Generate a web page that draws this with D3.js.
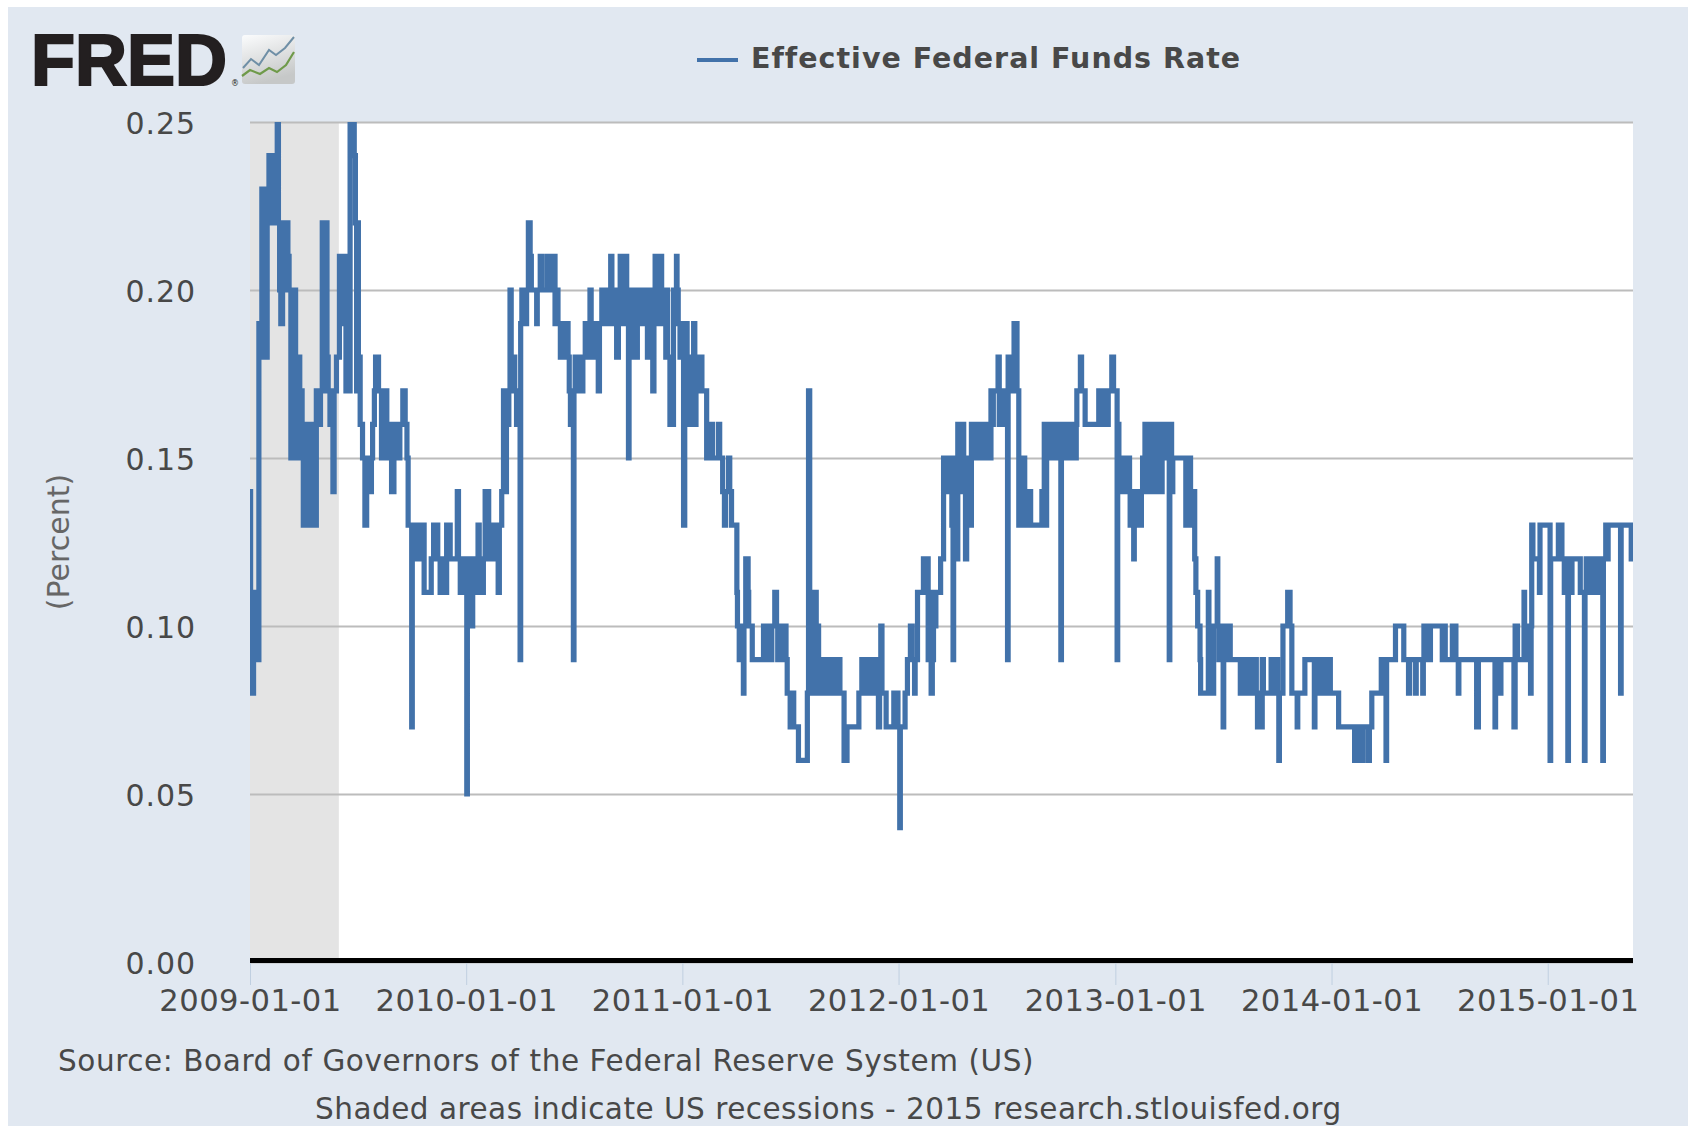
<!DOCTYPE html>
<html><head><meta charset="utf-8">
<script src="https://cdnjs.cloudflare.com/ajax/libs/d3/7.8.5/d3.min.js"></script>
<style>html,body{margin:0;padding:0;background:#fff}svg{display:block}</style>
</head><body><svg id="c" width="1688" height="1126"></svg>
<script>
// Observations: [days since 2009-01-01, rate in percent]; each value holds until the next entry.
const obs2009=[[0,.14],[1,.11],[4,.08],[6,.11],[9,.09],[12,.11],[14,.09],[15,.19],[18,.18],[20,.23],[23,.18],[26,.23],[28,.18],[29,.23],[32,.24],[36,.22],[38,.24],[41,.23],[43,.22],[46,.25],[48,.22],[50,.20],[52,.19],[55,.20],[56,.22],[60,.20],[62,.22],[64,.21],[66,.20],[69,.15],[72,.20],[73,.15],[75,.20],[77,.18],[80,.15],[82,.18],[84,.17],[88,.15],[90,.13],[93,.16],[95,.13],[97,.16],[99,.15],[101,.13],[104,.16],[106,.13],[108,.16],[110,.13],[112,.17],[116,.16],[119,.17],[122,.22],[125,.17],[127,.22],[130,.18],[132,.17],[135,.16],[137,.17],[140,.14],[142,.17],[146,.18],[151,.21],[154,.19],[158,.21],[162,.17],[165,.21],[166,.17],[169,.25],[174,.25],[176,.24],[178,.22],[180,.17],[181,.22],[183,.18],[186,.16],[190,.15],[194,.13],[197,.15],[203,.14],[205,.15],[207,.16],[210,.17],[212,.18],[217,.17],[222,.15],[225,.17],[227,.15],[229,.17],[231,.15],[235,.16],[239,.14],[243,.16],[246,.15],[248,.16],[250,.15],[253,.16],[258,.17],[262,.16],[265,.15],[267,.13],[273,.07],[274,.13],[281,.12],[283,.13],[287,.12],[290,.13],[294,.11],[306,.12],[310,.13],[317,.12],[321,.11],[328,.12],[330,.11],[332,.13],[334,.12],[336,.13],[338,.12],[350,.14],[352,.12],[355,.11],[358,.12],[360,.11],[363,.12]];
const obs2010=[[366,.05],[367,.11],[370,.12],[372,.11],[374,.10],[376,.11],[378,.12],[380,.11],[383,.12],[385,.13],[387,.11],[390,.12],[391,.11],[394,.12],[397,.14],[403,.13],[405,.12],[407,.13],[409,.12],[411,.13],[414,.12],[417,.13],[419,.11],[421,.13],[425,.14],[428,.17],[431,.14],[433,.17],[435,.16],[437,.17],[439,.20],[441,.17],[445,.18],[447,.17],[450,.16],[456,.09],[457,.19],[459,.20],[461,.19],[463,.20],[465,.19],[467,.20],[470,.22],[473,.21],[475,.20],[484,.19],[485,.20],[490,.21],[492,.20],[501,.21],[505,.20],[507,.21],[515,.19],[517,.20],[520,.19],[524,.18],[526,.19],[529,.18],[531,.19],[537,.18],[539,.17],[541,.16],[543,.17],[546,.09],[547,.17],[549,.18],[551,.17],[553,.18],[556,.17],[558,.18],[560,.17],[562,.18],[566,.19],[568,.18],[570,.19],[572,.18],[574,.20],[576,.19],[578,.18],[580,.19],[582,.18],[585,.19],[588,.17],[590,.19],[594,.20],[596,.19],[598,.20],[600,.19],[602,.20],[604,.19],[606,.20],[609,.21],[611,.19],[613,.20],[619,.18],[622,.20],[624,.19],[625,.21],[630,.21],[632,.19],[634,.21],[636,.19],[639,.15],[640,.20],[642,.18],[645,.20],[647,.18],[649,.20],[651,.18],[654,.20],[657,.19],[664,.20],[669,.19],[671,.18],[675,.20],[676,.19],[680,.17],[682,.19],[684,.21],[686,.19],[688,.21],[690,.19],[692,.21],[693,.19],[694,.21],[695,.20],[702,.18],[704,.20],[705,.18],[709,.16],[711,.18],[713,.16],[715,.20],[717,.19],[720,.21],[721,.20],[723,.19],[726,.18],[727,.19]];
const obs2011=[[732,.13],[734,.18],[736,.19],[738,.17],[740,.16],[742,.18],[744,.16],[749,.19],[751,.16],[753,.17],[755,.17],[757,.18],[759,.17],[761,.18],[763,.17],[771,.15],[775,.16],[777,.15],[779,.16],[781,.15],[791,.16],[793,.15],[798,.14],[801,.13],[803,.14],[808,.15],[810,.14],[813,.13],[822,.11],[823,.10],[826,.09],[828,.10],[830,.09],[833,.08],[834,.10],[837,.12],[841,.11],[842,.10],[846,.10],[848,.09],[867,.10],[869,.09],[871,.10],[873,.09],[876,.10],[878,.09],[881,.10],[886,.11],[889,.10],[891,.09],[893,.10],[895,.09],[897,.10],[899,.09],[903,.10],[905,.09],[907,.08],[912,.07],[915,.08],[918,.07],[926,.06],[941,.08],[943,.17],[945,.08],[947,.11],[948,.08],[951,.11],[952,.09],[954,.11],[956,.08],[958,.10],[960,.09],[966,.08],[968,.09],[970,.08],[972,.09],[974,.08],[977,.09],[979,.08],[981,.09],[983,.08],[986,.09],[988,.08],[990,.09],[992,.08],[994,.09],[996,.08],[1003,.06],[1008,.07],[1028,.08],[1033,.09],[1036,.08],[1038,.09],[1041,.08],[1049,.09],[1051,.08],[1053,.09],[1061,.07],[1063,.09],[1065,.10],[1067,.08],[1074,.07],[1087,.08],[1090,.07],[1092,.08],[1094,.07]];
const obs2012=[[1097,.04],[1098,.07],[1106,.08],[1110,.09],[1115,.10],[1118,.09],[1122,.08],[1123,.09],[1127,.11],[1137,.12],[1139,.11],[1141,.12],[1145,.09],[1147,.11],[1150,.08],[1152,.09],[1154,.10],[1158,.11],[1166,.12],[1171,.15],[1174,.14],[1176,.15],[1181,.14],[1185,.13],[1186,.14],[1187,.09],[1188,.15],[1194,.12],[1195,.16],[1201,.14],[1203,.16],[1205,.15],[1208,.12],[1210,.15],[1216,.13],[1218,.16],[1221,.15],[1224,.16],[1226,.15],[1228,.16],[1230,.15],[1233,.16],[1238,.15],[1239,.16],[1241,.15],[1243,.16],[1245,.15],[1251,.17],[1253,.16],[1255,.17],[1263,.18],[1265,.16],[1267,.17],[1269,.16],[1271,.17],[1273,.16],[1279,.09],[1280,.18],[1283,.17],[1290,.19],[1295,.17],[1298,.13],[1302,.15],[1304,.13],[1306,.15],[1308,.13],[1312,.14],[1314,.13],[1316,.14],[1318,.13],[1337,.14],[1341,.16],[1343,.13],[1345,.16],[1347,.15],[1349,.16],[1351,.15],[1353,.16],[1355,.15],[1357,.16],[1359,.15],[1362,.16],[1365,.16],[1367,.15],[1369,.09],[1370,.16],[1372,.15],[1374,.16],[1376,.15],[1378,.16],[1380,.15],[1382,.16],[1384,.15],[1386,.16],[1388,.15],[1390,.16],[1393,.15],[1395,.16],[1396,.17],[1402,.18],[1404,.17],[1410,.16],[1433,.17],[1436,.16],[1438,.17],[1441,.16],[1443,.17],[1447,.16],[1449,.17],[1455,.18]];
const obs2013=[[1458,.17],[1464,.09],[1465,.16],[1467,.14],[1469,.15],[1471,.14],[1473,.15],[1475,.14],[1477,.15],[1480,.14],[1483,.15],[1485,.14],[1486,.13],[1488,.14],[1492,.12],[1493,.13],[1495,.14],[1497,.13],[1499,.14],[1502,.13],[1505,.14],[1507,.15],[1509,.14],[1511,.16],[1513,.15],[1515,.16],[1517,.14],[1519,.16],[1521,.14],[1523,.16],[1525,.14],[1528,.16],[1530,.14],[1532,.16],[1534,.14],[1536,.16],[1538,.14],[1540,.16],[1542,.15],[1544,.16],[1545,.15],[1552,.09],[1553,.16],[1556,.14],[1558,.15],[1580,.13],[1582,.15],[1584,.13],[1586,.15],[1588,.13],[1590,.14],[1595,.12],[1597,.11],[1600,.10],[1604,.09],[1605,.08],[1618,.11],[1619,.09],[1626,.08],[1627,.10],[1633,.12],[1634,.10],[1636,.09],[1643,.07],[1644,.10],[1646,.09],[1649,.10],[1652,.09],[1654,.10],[1655,.09],[1672,.08],[1674,.09],[1676,.08],[1679,.09],[1681,.08],[1683,.09],[1685,.08],[1688,.09],[1690,.08],[1692,.09],[1694,.08],[1697,.09],[1699,.08],[1701,.07],[1703,.08],[1704,.07],[1709,.09],[1711,.08],[1724,.09],[1727,.08],[1729,.09],[1731,.08],[1733,.09],[1735,.08],[1737,.06],[1738,.08],[1744,.10],[1752,.11],[1756,.10],[1759,.08],[1768,.07],[1769,.08],[1781,.09],[1797,.07],[1798,.09],[1801,.08],[1803,.09],[1805,.08],[1807,.09],[1810,.08],[1812,.09],[1814,.08],[1816,.09],[1824,.08]];
const obs2014=[[1838,.07],[1865,.06],[1868,.07],[1870,.06],[1873,.07],[1875,.06],[1879,.07],[1888,.06],[1890,.07],[1894,.08],[1910,.09],[1918,.06],[1919,.09],[1934,.10],[1948,.09],[1956,.08],[1958,.09],[1968,.08],[1969,.09],[1980,.08],[1981,.09],[1982,.10],[1984,.09],[1986,.10],[1987,.09],[1993,.10],[2013,.09],[2015,.10],[2018,.09],[2030,.10],[2036,.09],[2040,.08],[2041,.09],[2071,.07],[2074,.09],[2102,.07],[2103,.09],[2105,.08],[2107,.09],[2109,.08],[2112,.09],[2134,.07],[2136,.10],[2140,.09],[2151,.11],[2152,.09],[2154,.10],[2162,.08],[2163,.10],[2164,.13],[2166,.12],[2177,.11],[2178,.13]];
const obs2015=[[2195,.06],[2196,.12],[2209,.13],[2215,.12],[2219,.11],[2221,.12],[2223,.11],[2225,.06],[2226,.11],[2228,.12],[2230,.11],[2232,.12],[2246,.11],[2253,.06],[2254,.11],[2256,.12],[2258,.11],[2260,.12],[2262,.11],[2264,.12],[2266,.11],[2268,.12],[2270,.11],[2272,.12],[2274,.11],[2276,.12],[2278,.11],[2284,.06],[2285,.12],[2289,.13],[2291,.12],[2293,.13],[2314,.08],[2315,.13],[2332,.12],[2335,.12]];
const yTicks=[0,.05,.10,.15,.20,.25];
const xTickYears=[2009,2010,2011,2012,2013,2014,2015];
const recession=["2009-01-01","2009-05-31"];
const seriesName="Effective Federal Funds Rate";
const yTitle="(Percent)";
const sourceLine="Source: Board of Governors of the Federal Reserve System (US)";
const noteLine="Shaded areas indicate US recessions - 2015 research.stlouisfed.org";

const FONT="'DejaVu Sans',sans-serif", BLUE="#4272aa", TXT="#484848";
const L=250,R=1633,T=122,B=962;
const start=new Date(Date.UTC(2009,0,1));
const dayDate=d=>d3.utcDay.offset(start,d);
const rows=[...obs2009,...obs2010,...obs2011,...obs2012,...obs2013,...obs2014,...obs2015];
const x=d3.scaleUtc().domain([start,dayDate(2335)]).range([L,R]);
const y=d3.scaleLinear().domain([0,.25]).range([B,T]);
const svg=d3.select("#c").style("font-family",FONT);

svg.append("rect").attr("x",8).attr("y",7).attr("width",1680).attr("height",1119).attr("fill","#e1e8f1");
svg.append("rect").attr("x",L).attr("y",T).attr("width",R-L).attr("height",B-T-2).attr("fill","#fff");
svg.append("rect").attr("x",x(new Date(recession[0]))).attr("y",T)
  .attr("width",x(new Date(recession[1]))-x(new Date(recession[0]))).attr("height",B-T-2).attr("fill","#e4e4e4");

// y axis + grid
const ya=svg.append("g").attr("transform",`translate(${L},0)`)
  .call(d3.axisLeft(y).tickValues(yTicks).tickFormat(d3.format(".2f")).tickSize(-(R-L)).tickPadding(54));
ya.select(".domain").remove();
ya.selectAll("line").attr("stroke","#bcbcbc").attr("stroke-width",2);
ya.selectAll("text").attr("font-size",30).attr("letter-spacing",0.9).attr("font-family",FONT).attr("fill",TXT).attr("dy","0.38em");

// x axis
const xa=svg.append("g").attr("transform",`translate(0,${B+1})`)
  .call(d3.axisBottom(x).tickValues(xTickYears.map(v=>new Date(Date.UTC(v,0,1)))).tickFormat(d3.utcFormat("%Y-%m-%d")).tickSize(22).tickPadding(4));
xa.select(".domain").remove();
xa.selectAll("line").attr("stroke","#c0cfe0").attr("stroke-width",1);
xa.selectAll("text").attr("font-size",30.6).attr("letter-spacing",0.45).attr("font-family",FONT).attr("fill",TXT);

svg.append("clipPath").attr("id","plot").append("rect").attr("x",L).attr("y",T).attr("width",R-L).attr("height",B-T);
const line=d3.line().x(d=>x(dayDate(d[0]))).y(d=>y(d[1])).curve(d3.curveStepAfter);
svg.append("path").datum(rows).attr("clip-path","url(#plot)").attr("d",line)
  .attr("fill","none").attr("stroke",BLUE).attr("stroke-width",5.2).attr("stroke-linejoin","miter").attr("stroke-miterlimit",3);
svg.append("line").attr("x1",L).attr("x2",R).attr("y1",B-1.5).attr("y2",B-1.5).attr("stroke","#000").attr("stroke-width",5);

// legend
svg.append("line").attr("x1",697).attr("x2",738).attr("y1",60).attr("y2",60).attr("stroke",BLUE).attr("stroke-width",4);
svg.append("text").attr("x",751).attr("y",68).attr("font-size",28.5).attr("letter-spacing",1).attr("font-weight","bold").attr("fill",TXT).text(seriesName);

// texts
svg.append("text").attr("transform","translate(69,542) rotate(-90)").attr("text-anchor","middle").attr("font-size",30).attr("fill","#666").text(yTitle);
svg.append("text").attr("x",58).attr("y",1071).attr("font-size",29.5).attr("letter-spacing",0.58).attr("fill",TXT).text(sourceLine);
svg.append("text").attr("x",315).attr("y",1119).attr("font-size",29.5).attr("letter-spacing",0.49).attr("fill",TXT).text(noteLine);

// FRED logo
svg.append("text").attr("x",31).attr("y",84.5).attr("font-family","'Liberation Sans',sans-serif").attr("font-weight","bold")
  .attr("font-size",72).attr("letter-spacing",0).attr("fill","#231f20").attr("stroke","#231f20").attr("stroke-width",2.2).text("FRED");
svg.append("text").attr("x",231).attr("y",86).attr("font-size",8).attr("fill","#231f20").text("®");
const defs=svg.append("defs");
const g=defs.append("linearGradient").attr("id","lg").attr("x1",0).attr("y1",0).attr("x2",.3).attr("y2",1);
g.append("stop").attr("offset",0).attr("stop-color","#fbfcfd");
g.append("stop").attr("offset",1).attr("stop-color","#c6c8c8");
const icon=svg.append("g").attr("transform","translate(242,35)");
icon.append("rect").attr("width",53).attr("height",49).attr("rx",3).attr("fill","url(#lg)");
icon.append("polyline").attr("points","1,33 9,24 17,30 27,15 34,20 43,13 52,2").attr("fill","none").attr("stroke","#6f8fa6").attr("stroke-width",2);
icon.append("polyline").attr("points","0,41 8,35 18,39 27,33 35,37 44,30 52,17").attr("fill","none").attr("stroke","#6f9a4a").attr("stroke-width",2.2);
</script></body></html>
